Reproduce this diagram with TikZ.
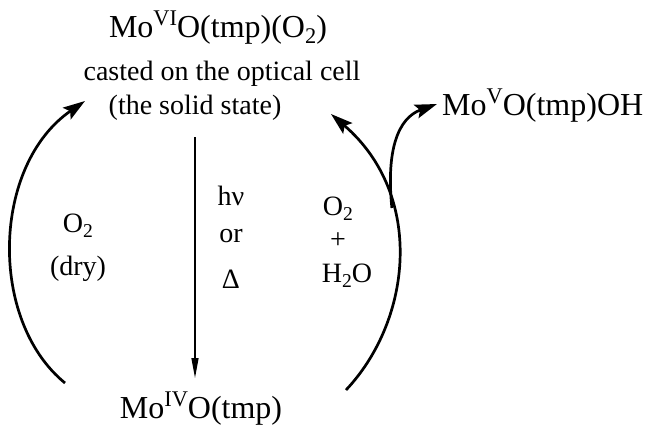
\documentclass[tikz,border=0pt]{standalone}
\usepackage{fontspec}
\setmainfont{Liberation Serif}
\usepackage{graphicx}
\usetikzlibrary{arrows.meta,positioning}
\newcommand\supr[1]{\raisebox{0.36em}{\scalebox{0.7}{#1}}}
\newcommand\subr[1]{\raisebox{-0.2em}{\scalebox{0.7}{#1}}}

\begin{document}
\begin{tikzpicture}[x=1pt, y=-1pt,
  chem/.style={font=\fontsize{32}{36}\selectfont, inner sep=0pt, anchor=base},
  lbl/.style={font=\fontsize{28}{32}\selectfont, inner sep=0pt, anchor=base},
  thickarc/.style={line width=2.7pt, -{Stealth[length=22pt,width=14pt,inset=4pt]}},
  vert/.style={line width=1.3pt, -{Triangle[length=20pt,width=7pt]}}]
\useasboundingbox (0,0) rectangle (651,426);
% species
\node[chem] (movi) at (218,37) {Mo\supr{VI}O(tmp)(O\subr{2})};
\node[lbl] (cast) at (222,80) {casted on the optical cell};
\node[lbl] (state) at (195,114) {(the solid state)};
\node[chem] (moiv) at (201,418) {Mo\supr{IV}O(tmp)};
\node[chem, anchor=base west] (mov) at (442,115) {Mo\supr{V}O(tmp)OH};
% conditions
\foreach \t/\n/\y in {hν/hv/205, or/orw/242, Δ/dl/288}
  \node[lbl] (\n) at (231,\y) {\t};
\node[lbl] (dryo) at (78,232) {O\subr{2}};
\node[lbl] (dry) at (78,275) {(dry)};
\node[lbl] (weto) at (338,215) {O\subr{2}};
\node[lbl] (plus) at (338,248) {+};
\node[lbl] (wet) at (347,282) {H\subr{2}O};
% arcs
\coordinate (dryS) at (65,383);
\coordinate (dryE) at (85,101);
\coordinate (wetS) at (346,390);
\coordinate (wetE) at (331,114);
\coordinate (movE) at (437,104);
\draw[vert, shorten <=23pt, shorten >=40pt] (state.base) -- (state.base |- moiv.base);
\draw[thickarc] (dryS) .. controls (-12,320) and (-8,165) .. (dryE);
\draw[thickarc] (wetS) .. controls (412,320) and (425,195) .. (wetE) coordinate[pos=0.66] (brS);
\draw[thickarc] (brS) .. controls (386,150) and (398,118) .. (movE);
\end{tikzpicture}
\end{document}
